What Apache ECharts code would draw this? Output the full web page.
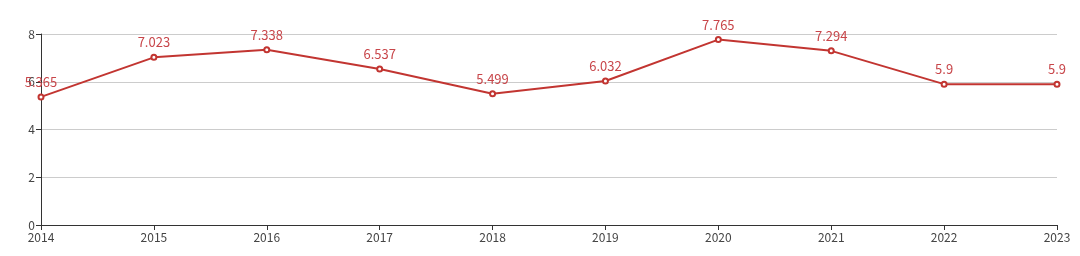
<!DOCTYPE html>
<html>
<head>
<meta charset="utf-8">
<script src="https://cdn.jsdelivr.net/npm/echarts@6/dist/echarts.min.js"></script>
<style>
html,body{margin:0;padding:0;background:#fff;}
#main{width:1080px;height:256px;}
</style>
</head>
<body>
<div id="main"></div>
<script>
var years = ['2014','2015','2016','2017','2018','2019','2020','2021','2022','2023'];
var values = [5.365, 7.023, 7.338, 6.537, 5.499, 6.032, 7.765, 7.294, 5.9, 5.9];

var chart = echarts.init(document.getElementById('main'));
var option = {
	animation: false,
	textStyle: { fontFamily: '"Noto Sans CJK SC", "Noto Sans", sans-serif' },
	grid: { left: 41, right: 23, top: 34, bottom: 31 },
	xAxis: {
		type: 'category',
		boundaryGap: false,
		data: years,
		axisLine: { lineStyle: { color: '#333' } },
		axisTick: { lineStyle: { color: '#333' } },
		axisLabel: { color: '#444', fontSize: 12, margin: 6 }
	},
	yAxis: {
		type: 'value',
		min: 0,
		max: 8,
		interval: 2,
		axisLine: { show: true, lineStyle: { color: '#333' } },
		axisTick: { show: true, lineStyle: { color: '#333' } },
		axisLabel: { color: '#444', fontSize: 12, margin: 6 },
		splitLine: { lineStyle: { color: '#ccc' } }
	},
	series: [{
		type: 'line',
		data: values,
		symbol: 'emptyCircle',
		symbolSize: 5,
		lineStyle: { color: '#c23531', width: 2 },
		itemStyle: { color: '#c23531', borderWidth: 1 },
		label: { show: true, position: 'top', color: '#c8464a', fontSize: 13, distance: 5 }
	}]
};
chart.setOption(option);
</script>
</body>
</html>
